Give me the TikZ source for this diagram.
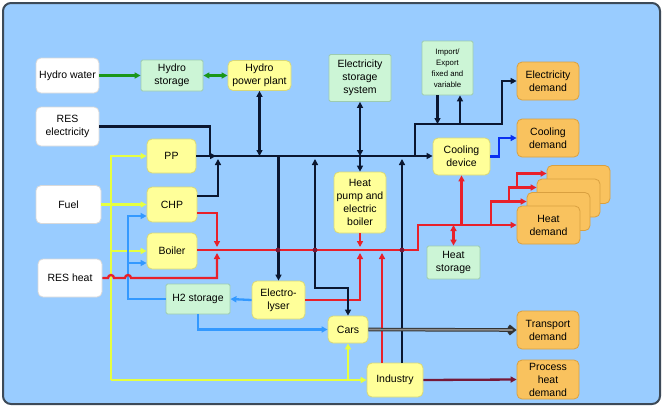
\documentclass[tikz,border=0pt]{standalone}
\usepackage{fontspec}
\setmainfont{Liberation Sans}
\usetikzlibrary{arrows.meta}
\definecolor{bgc}{HTML}{99CCFF}
\definecolor{bgb}{HTML}{3D4A58}
\definecolor{yel}{HTML}{FFFF99}
\definecolor{yelb}{HTML}{D8D878}
\definecolor{grn}{HTML}{CCF5D6}
\definecolor{grnb}{HTML}{9CCBB0}
\definecolor{org}{HTML}{F9C25E}
\definecolor{orgb}{HTML}{D9A040}
\definecolor{elc}{HTML}{0A1630}
\definecolor{redc}{HTML}{E8202A}
\definecolor{ylc}{HTML}{E6FF40}
\definecolor{h2c}{HTML}{3399FF}
\definecolor{coolc}{HTML}{0A30F0}
\definecolor{grl}{HTML}{1A961A}
\definecolor{phc}{HTML}{761838}
\tikzset{
  x=1pt, y=-1pt,
  tip/.style={-{Triangle[length=6pt,width=6pt]}},
  btip/.style={{Triangle[length=6pt,width=6pt]}-{Triangle[length=6pt,width=6pt]}},
  box/.style={rounded corners=5pt, align=center, inner sep=1pt, line width=0.8pt,
     font=\fontsize{10.5}{13}\selectfont},
  wbox/.style={box, fill=white, draw=black!15},
  ybox/.style={box, fill=yel, draw=yelb},
  gbox/.style={box, fill=grn, draw=grnb, rounded corners=1.5pt},
  obox/.style={box, fill=org, draw=orgb},
  sz/.style n args={2}{minimum width=#1pt, minimum height=#2pt},
  ln/.style={line width=2.3pt},
  el/.style={ln, draw=elc},
  rl/.style={ln, draw=redc},
  yl/.style={ln, draw=ylc},
  bl/.style={ln, draw=h2c},
  cl/.style={ln, draw=coolc},
  gl/.style={ln, draw=grl},
  pl/.style={ln, draw=phc},
}
\begin{document}
\begin{tikzpicture}
\useasboundingbox (0,0) rectangle (664,408);
\fill[white] (0,0) rectangle (664,408);
\draw[fill=bgc, draw=bgb, line width=2pt, rounded corners=8pt] (3,3) rectangle (660,404);

% nodes
\node[wbox, sz={63}{35}] (hw) at (67.5,75.5) {Hydro water};
\node[gbox, sz={62}{31}] (hs) at (172,75.5) {Hydro\\storage};
\node[ybox, sz={63}{30}] (hpp) at (259.5,75.5) {Hydro\\power plant};
\node[wbox, sz={63}{39}] (rese) at (67.5,126.5) {RES\\electricity};
\node[ybox, sz={49}{34}] (pp) at (171.5,156) {PP};
\node[ybox, sz={50}{35}] (chp) at (172,204.5) {CHP};
\node[ybox, sz={50}{36}] (boil) at (172,251) {Boiler};
\node[wbox, sz={65}{38}] (fuel) at (68.5,204.5) {Fuel};
\node[wbox, sz={64}{38}] (resh) at (70,278) {RES heat};
\node[gbox, sz={64}{30}] (h2) at (198,299) {H2 storage};
\node[ybox, sz={53}{38}] (ely) at (278.5,300) {Electro-\\lyser};
\node[ybox, sz={40}{27}] (cars) at (348,329.5) {Cars};
\node[ybox, sz={56}{34}] (ind) at (395,380) {Industry};
\node[gbox, sz={62}{47}] (ess) at (360,78) {Electricity\\storage\\system};
\node[ybox, sz={52}{61}] (hp) at (360,202.5) {Heat\\pump and\\electric\\boiler};
\node[gbox, sz={51}{54}, font=\fontsize{7.8}{11}\selectfont] (imp) at (447.5,68) {Import/\\Export\\fixed and\\variable};
\node[obox, sz={62}{38}] (ed) at (548,81) {Electricity\\demand};
\node[obox, sz={62}{38}] (cd) at (548,138) {Cooling\\demand};
\node[ybox, sz={57}{37}] (cool) at (461.5,156.5) {Cooling\\device};
\node[obox, sz={63}{38}] (hd4) at (578.5,184.5) {};
\node[obox, sz={63}{38}] (hd3) at (568.5,198) {};
\node[obox, sz={63}{38}] (hd2) at (558.5,211.5) {};
\node[obox, sz={63}{38}] (hd) at (548.5,225) {Heat\\demand};
\node[gbox, sz={53}{33}] (hst) at (453.5,262.5) {Heat\\storage};
\node[obox, sz={62}{38}] (td) at (548,330) {Transport\\demand};
\node[obox, sz={62}{39}] (phd) at (548,379.5) {Process\\heat\\demand};

% coordinates
\coordinate (bus) at (0,156);
\coordinate (ebus) at (0,124);
\coordinate (hbus) at (0,250);
\coordinate (rbus) at (0,225);

% green
\draw[gl,tip] (hw) -- (hs);
\draw[gl,btip] (hs) -- (hpp);

% yellow
\coordinate (ytop) at (111,156);
\coordinate (ybot) at (111,380);
\draw[yl,tip] (ybot) -- (ytop) -- (pp.west);
\draw[yl,tip] (fuel.east) -- (chp.west);
\coordinate (yb) at (111,251);
\draw[yl,tip] (yb) -- (yb -| boil.west);
\draw[yl,tip] (ybot) -- (ind.west);
\coordinate (yc) at (348,380);
\draw[yl,tip] (yc) -- (cars.south);

% blue H2
\coordinate (bv) at (128,216);
\coordinate (bw) at (128,263);
\draw[bl,tip] (ely.west) -- (h2.east);
\draw[bl,tip] (h2.west) -| (bv) -- (bv -| chp.west);
\draw[bl,tip] (bw) -- (bw -| boil.west);
\draw[bl,tip] (h2.south) |- (cars.west);

% red heat
\coordinate (r1) at (418,250);
\draw[rl,tip] (boil.east |- hbus) -- (r1) |- (hd.west);
\coordinate (rc) at (217,213);
\draw[rl,tip] (chp.east |- rc) -- (rc) -- (217,247);
\draw[rl,tip] (resh.east) -- (108,278) arc (180:360:3) -- (125,278) arc (180:360:3) -- (217,278) -- (217,253);
\draw[rl,tip] (hp.south) -- (hp.south |- 0,247);
\draw[rl,tip] (ely.east) -| (360,253);
\coordinate (ri) at (382,363);
\draw[rl,tip] (ri) -- (382,253);
\draw[rl,tip] (cool.south |- rbus) -- (cool.south);
\draw[rl,btip] (hst.north) -- (hst.north |- rbus);
\draw[rl,tip] (491,225) |- ([yshift=10pt]hd2.west);
\draw[rl,tip] (509,201.5) |- ([yshift=10.5pt]hd3.west);
\draw[rl,tip] (517,187.5) |- ([yshift=11pt]hd4.west);

% black electricity
\draw[el,tip] (pp.east) -- (pp.east -| cool.west);
\coordinate (re) at (210,156);
\draw[el,tip] (rese.east) -| (re) -- (216,156);
\coordinate (ce) at (218,196);
\draw[el,tip] (chp.east |- ce) -- (ce) -- (218,159);
\draw[el,btip] (hpp.south) -- (hpp.south |- bus);
\draw[el,btip] (ess.south -| hp.north) -- (hp.north |- bus);
\draw[el,tip] (hp.north |- bus) -- (hp.north);
\draw[el,tip] (ely.north |- bus) -- (ely.north);
\draw[el,btip] (315,159) -- (315,288) -| (cars.north);
\coordinate (ie) at (402,363);
\draw[el,tip] (ie) -- (402,159);
\draw[el,tip] (415,156) |- (502,124) |- (ed.west);
\draw[el,tip] ([xshift=-10pt]imp.south) -- ([xshift=-10pt]imp.south |- ebus);
\draw[el,tip] ([xshift=12.5pt]imp.south |- ebus) -- ([xshift=12.5pt]imp.south);

% crossing dots
\foreach \x in {278,315,402} \fill[phc] (\x,250) circle (2.4pt);

% cooling
\draw[cl,tip] (cool.east) -- (499,156.5) |- (cd.west);

% transport
\draw[draw=black!80, line width=3.6pt, -{Straight Barb[length=5pt,width=8pt]}] (cars.east) -- (td.west);
\draw[draw=black!45, line width=1.6pt, shorten >=4pt] (cars.east) -- (td.west);

% process heat
\draw[pl,tip] (ind.east) -- (phd.west);
\end{tikzpicture}
\end{document}
